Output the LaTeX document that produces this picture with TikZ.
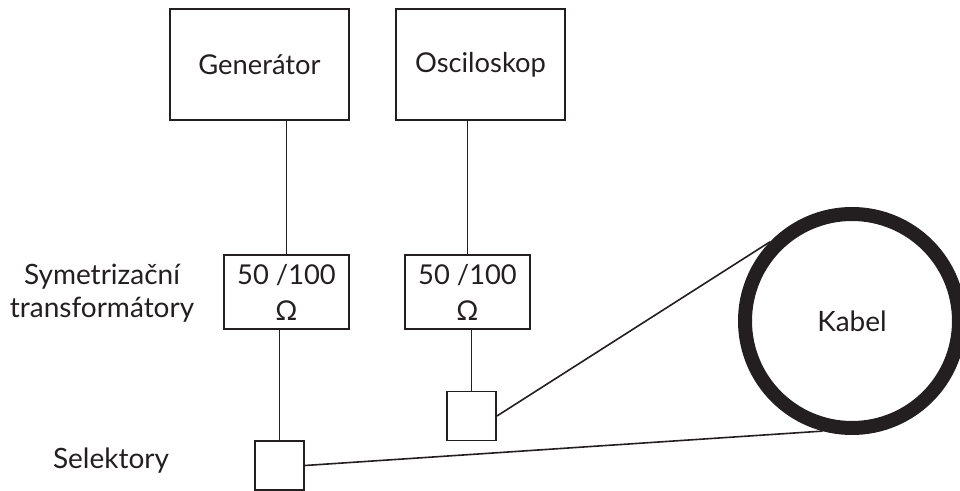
\documentclass[tikz,border=0pt]{standalone}
\usepackage{fontspec}
\setmainfont{Lato}
\definecolor{cerna}{RGB}{35,31,32}
\begin{document}
\begin{tikzpicture}[x=0.75pt,y=0.75pt,yscale=-1,xscale=1]
\tikzset{blok/.style={draw=cerna,text=cerna,line width=1.4pt,inner sep=0pt,align=center,font=\fontsize{20.5}{27}\selectfont},
popis/.style={text=cerna,inner sep=0pt,align=center,font=\fontsize{21}{24.5}\selectfont}}
\useasboundingbox (0,0) rectangle (960,491);
\draw (259.5,64.5) node [blok,minimum width=134.25pt,minimum height=83.25pt] (gen) {Generátor};
\draw (480.5,64.5) node [blok,minimum width=126.75pt,minimum height=83.25pt] (osc) {Osciloskop};
\draw (286.5,292) node [blok,minimum width=93.75pt,minimum height=55.5pt] (symA) {50 /100\\Ω};
\draw (467.5,292) node [blok,minimum width=93.75pt,minimum height=55.5pt] (symB) {50 /100\\Ω};
\draw (279.5,465.5) node [blok,minimum size=36.75pt] (selA) {};
\draw (471.5,416) node [blok,minimum size=36.75pt] (selB) {};
\draw (852,321) node [circle,draw=cerna,text=cerna,line width=10.5pt,minimum size=160.5pt,inner sep=0pt,font=\fontsize{21}{24}\selectfont] (kabel) {Kabel};
\draw (102,293) node [popis] (symtxt) {Symetrizační\\transformátory};
\draw (111,461) node [popis] (seltxt) {Selektory};
\draw [cerna,line width=1.2pt] (symA.north) -- (symA.north |- gen.south) ;
\draw [cerna,line width=1.2pt] (symB.north) -- (symB.north |- osc.south) ;
\draw [cerna,line width=1.2pt] (selA.north) -- (selA.north |- symA.south) ;
\draw [cerna,line width=1.2pt] (selB.north) -- (selB.north |- symB.south) ;
\draw [cerna,line width=1.2pt] (selB.east) -- (kabel.136) ;
\draw [cerna,line width=1.2pt] (selA.east) -- (kabel.255) ;
\end{tikzpicture}
\end{document}
